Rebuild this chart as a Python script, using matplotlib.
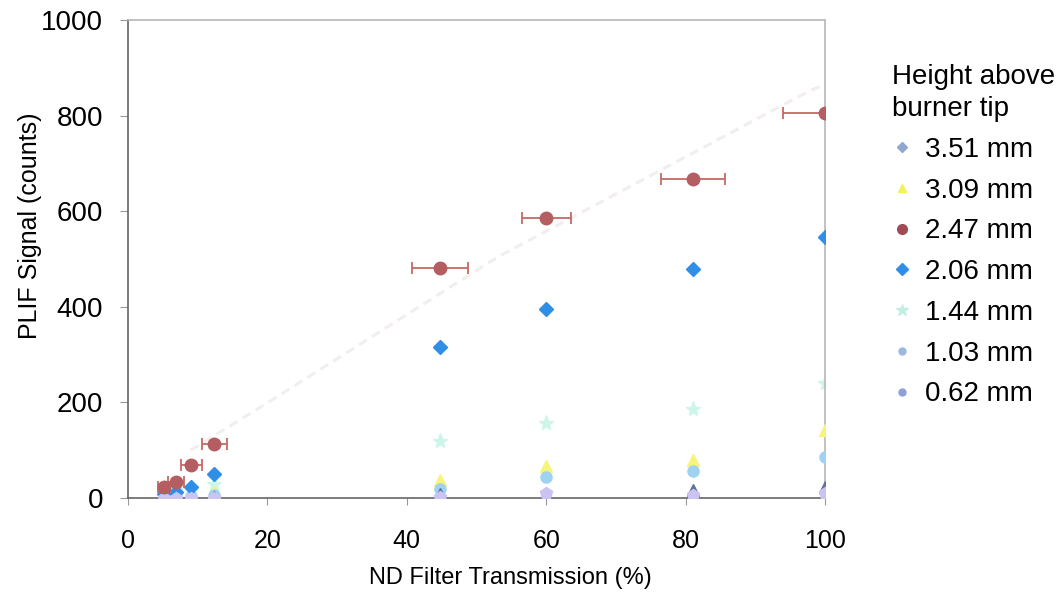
import matplotlib
matplotlib.use("Agg")
import matplotlib.pyplot as plt
from matplotlib.lines import Line2D

plt.rcParams['font.family'] = ['Liberation Sans', 'DejaVu Sans']

# ND filter transmission (%) for each measurement
transmission = [5.2, 6.9, 9.1, 12.4, 44.8, 60.0, 81.0, 100.0]
# horizontal uncertainty on transmission for the 2.47 mm series
transmission_err = [0.9, 1.2, 1.5, 1.8, 4.0, 3.5, 4.6, 6.0]

# PLIF signal (counts) per height above burner tip
sig_351 = [1, 2, 2, 3, 8, 8, 17, 23]
sig_309 = [5, 7, 9, 12, 38, 67, 79, 142]
sig_247 = [23, 33, 70, 113, 481, 586, 667, 805]
sig_206 = [8, 12, 24, 50, 316, 395, 479, 546]
sig_144 = [12, 16, 20, 30, 119, 157, 186, 240]
sig_103 = [3, 4, 5, 6, 19, 44, 57, 86]
sig_062 = [0, 1, 1, 1, 2, 10, 6, 10]

# faint guide curve for the 2.47 mm series
trend_x = [9.0, 20.0, 53.0, 98.0, 100.0]
trend_y = [100, 199, 504, 854, 865]

series_labels = ["3.51 mm", "3.09 mm", "2.47 mm", "2.06 mm", "1.44 mm", "1.03 mm", "0.62 mm"]

fig = plt.figure(figsize=(10.61, 5.95), dpi=100)
ax = fig.add_axes([0.1206, 0.163, 0.657, 0.803])

ax.plot(trend_x, trend_y, color="#f3eeee", lw=2.2, ls=(0, (3, 2)), zorder=1)

ax.plot(transmission, sig_144, ls="none", marker="*", ms=11, color="#cdf6e8", zorder=2)
ax.plot(transmission, sig_309, ls="none", marker="^", ms=8, color="#f6f47a", zorder=3)
ax.plot(transmission, sig_103, ls="none", marker="o", ms=8, color="#9fd2f2", zorder=3)
ax.plot(transmission, sig_351, ls="none", marker="^", ms=8, color="#5f7399", zorder=4)
ax.plot(transmission, sig_062, ls="none", marker="p", ms=9, color="#cbc4f2", zorder=5)
ax.plot(transmission, sig_206, ls="none", marker="D", ms=7, color="#2f8ee6", zorder=4)
ax.errorbar(transmission, sig_247, xerr=transmission_err, fmt="o", ms=9,
            color="#b45e62", ecolor="#c46a66", elinewidth=1.3, capsize=4, capthick=1.3, zorder=6)

ax.set_xlim(0, 100)
ax.set_ylim(0, 1000)
ax.set_xticks([0, 20, 40, 60, 80, 100])
ax.set_yticks([0, 200, 400, 600, 800, 1000])
ax.tick_params(axis="y", labelsize=20, length=6, width=0.8, color="#999999", pad=12)
ax.tick_params(axis="x", labelsize=18, length=5, width=0.8, color="#999999", pad=17)
ax.set_xlabel("ND Filter Transmission (%)", fontsize=17)
ax.xaxis.set_label_coords(0.548, -0.145)
ax.set_ylabel("PLIF Signal (counts)", fontsize=18)
ax.yaxis.set_label_coords(-0.123, 0.57)

for side in ("left", "bottom"):
    ax.spines[side].set_color("#666666")
    ax.spines[side].set_linewidth(1.2)
for side in ("top", "right"):
    ax.spines[side].set_color("#b8b8b8")
    ax.spines[side].set_linewidth(1.2)

handles = [
    Line2D([], [], ls="none", marker="D", ms=5, color="#8ea6d0"),
    Line2D([], [], ls="none", marker="^", ms=6, color="#f2f25a"),
    Line2D([], [], ls="none", marker="o", ms=7, color="#a04b55"),
    Line2D([], [], ls="none", marker="D", ms=6, color="#2f8ee6"),
    Line2D([], [], ls="none", marker="*", ms=9, color="#bff0de"),
    Line2D([], [], ls="none", marker="o", ms=5, color="#9db8e0"),
    Line2D([], [], ls="none", marker="o", ms=5, color="#8fa0d8"),
]
leg = fig.legend(handles, series_labels, title="Height above\nburner tip",
                 loc="upper left", bbox_to_anchor=(0.8407, 0.892), frameon=False,
                 fontsize=20, title_fontsize=20, labelspacing=0.53, borderpad=0,
                 borderaxespad=0, handletextpad=0.47, handlelength=0.72,
                 alignment="left")
leg.get_title().set_linespacing(1.3)

fig.savefig("out.png", dpi=100, facecolor="white")
